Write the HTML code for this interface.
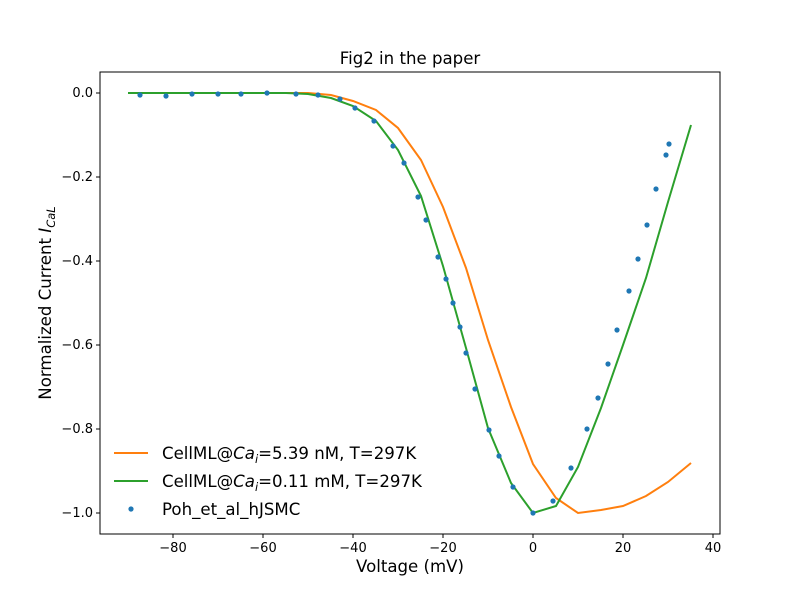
<!DOCTYPE html>
<html><head><meta charset="utf-8"><style>body{margin:0;background:#fff}svg{display:block}text{font-family:"DejaVu Sans","Liberation Sans",sans-serif}</style></head><body>
<svg width="800" height="600" viewBox="0 0 800 600" xmlns="http://www.w3.org/2000/svg">
<rect width="800" height="600" fill="#fff"/>
<g id="plot">
<polyline fill="none" stroke="#ff7f0e" stroke-width="2" points="128,93 151,93 173,93 196,93 218,93 241,93 263,93 286,93 308,93 331,95 353,101 376,110 398,128 421,160 443,207 466,268 488,340 511,407 533,464 556,498 578,513 601,510 623,506 646,496 668,482 691,463"/>
<polyline fill="none" stroke="#2ca02c" stroke-width="2" points="128,93 151,93 173,93 196,93 218,93 241,93 263,93 286,93 308,94 331,98 353,106 376,121 398,150 421,196 443,266 466,348 488,428 511,483 533,513 556,506 578,467 601,408 623,345 646,278 668,202 691,125"/>
<g fill="#1f77b4">
<circle cx="140" cy="95" r="2.6"/><circle cx="166" cy="96" r="2.6"/><circle cx="192" cy="94" r="2.6"/><circle cx="218" cy="94" r="2.6"/><circle cx="241" cy="94" r="2.6"/><circle cx="267" cy="93" r="2.6"/><circle cx="296" cy="94" r="2.6"/><circle cx="318" cy="95" r="2.6"/><circle cx="340" cy="99" r="2.6"/><circle cx="355" cy="108" r="2.6"/><circle cx="374" cy="121" r="2.6"/><circle cx="393" cy="146" r="2.6"/><circle cx="404" cy="163" r="2.6"/><circle cx="418" cy="197" r="2.6"/><circle cx="426" cy="220" r="2.6"/><circle cx="438" cy="257" r="2.6"/><circle cx="446" cy="279" r="2.6"/><circle cx="453" cy="303" r="2.6"/><circle cx="460" cy="327" r="2.6"/><circle cx="466" cy="353" r="2.6"/><circle cx="475" cy="389" r="2.6"/><circle cx="489" cy="430" r="2.6"/><circle cx="499" cy="456" r="2.6"/><circle cx="513" cy="487" r="2.6"/><circle cx="533" cy="513" r="2.6"/><circle cx="553" cy="501" r="2.6"/><circle cx="571" cy="468" r="2.6"/><circle cx="587" cy="429" r="2.6"/><circle cx="598" cy="398" r="2.6"/><circle cx="608" cy="364" r="2.6"/><circle cx="617" cy="330" r="2.6"/><circle cx="629" cy="291" r="2.6"/><circle cx="638" cy="259" r="2.6"/><circle cx="647" cy="225" r="2.6"/><circle cx="656" cy="189" r="2.6"/><circle cx="666" cy="155" r="2.6"/><circle cx="669" cy="144" r="2.6"/>
</g>
</g>
<rect x="100" y="72" width="620" height="462" fill="none" stroke="#000" stroke-width="1"/>
<g stroke="#000" stroke-width="1">
<line x1="173" y1="534" x2="173" y2="538"/><line x1="263" y1="534" x2="263" y2="538"/><line x1="353" y1="534" x2="353" y2="538"/><line x1="443" y1="534" x2="443" y2="538"/><line x1="533" y1="534" x2="533" y2="538"/><line x1="623" y1="534" x2="623" y2="538"/><line x1="713" y1="534" x2="713" y2="538"/>
<line x1="96" y1="93" x2="100" y2="93"/><line x1="96" y1="177" x2="100" y2="177"/><line x1="96" y1="261" x2="100" y2="261"/><line x1="96" y1="345" x2="100" y2="345"/><line x1="96" y1="429" x2="100" y2="429"/><line x1="96" y1="513" x2="100" y2="513"/>
</g>
<g font-size="13" fill="#000" text-anchor="middle">
<text x="173" y="552">−80</text><text x="263" y="552">−60</text><text x="353" y="552">−40</text><text x="443" y="552">−20</text><text x="533" y="552">0</text><text x="623" y="552">20</text><text x="713" y="552">40</text>
</g>
<g font-size="13" fill="#000" text-anchor="end">
<text x="93" y="97">0.0</text><text x="93" y="181">−0.2</text><text x="93" y="265">−0.4</text><text x="93" y="349">−0.6</text><text x="93" y="433">−0.8</text><text x="93" y="517">−1.0</text>
</g>
<text x="410" y="64" font-size="16.6" text-anchor="middle">Fig2 in the paper</text>
<text x="410" y="572" font-size="16.6" text-anchor="middle">Voltage (mV)</text>
<text transform="translate(51,303) rotate(-90)" font-size="16.6" text-anchor="middle">Normalized Current <tspan font-style="italic">I</tspan><tspan font-style="italic" font-size="11.5" dy="4">CaL</tspan></text>
<g font-size="16.6" fill="#000">
<line x1="114" y1="453" x2="148" y2="453" stroke="#ff7f0e" stroke-width="2"/>
<text x="162" y="459">CellML@<tspan font-style="italic">Ca</tspan><tspan font-style="italic" font-size="11.5" dy="4">i</tspan><tspan dy="-4">=5.39 nM, T=297K</tspan></text>
<line x1="114" y1="481" x2="148" y2="481" stroke="#2ca02c" stroke-width="2"/>
<text x="162" y="487">CellML@<tspan font-style="italic">Ca</tspan><tspan font-style="italic" font-size="11.5" dy="4">i</tspan><tspan dy="-4">=0.11 mM, T=297K</tspan></text>
<circle cx="131" cy="509" r="2.6" fill="#1f77b4"/>
<text x="162" y="515">Poh_et_al_hJSMC</text>
</g>
</svg>
</body></html>
